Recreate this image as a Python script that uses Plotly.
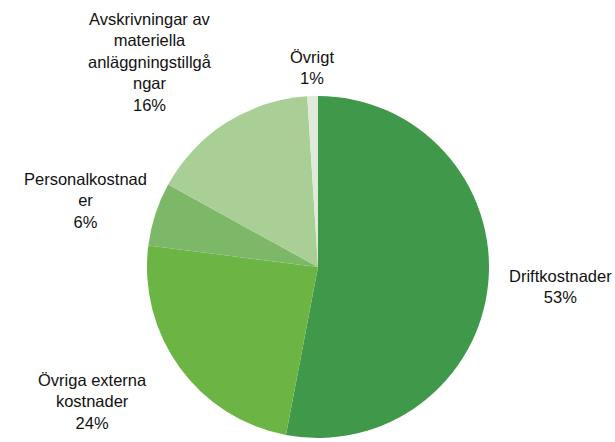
import plotly.graph_objects as go

categories = ["Driftkostnader", "Övriga externa kostnader", "Personalkostnader",
              "Avskrivningar av materiella anläggningstillgångar", "Övrigt"]
display_labels = ["Driftkostnader", "Övriga externa<br>kostnader", "Personalkostnad<br>er",
                  "Avskrivningar av<br>materiella<br>anläggningstillgå<br>ngar", "Övrigt"]
values = [53, 24, 6, 16, 1]
colors = ["#40994a", "#6cb544", "#7db868", "#a9cf96", "#dfeada"]

W, H = 615, 442
cx, cy, r = 318, 267, 171

fig = go.Figure(go.Pie(
    labels=categories, values=values, sort=False, direction="clockwise", rotation=0,
    marker=dict(colors=colors, line=dict(width=0)),
    textinfo="none", hoverinfo="label+percent", showlegend=False,
    domain=dict(x=[(cx - r) / W, (cx + r) / W], y=[(H - cy - r) / H, (H - cy + r) / H]),
))

# label block centres (pixels)
label_pos = [(560, 286), (92, 401), (85, 201), (150, 62), (312, 67)]
for lab, v, (px, py) in zip(display_labels, values, label_pos):
    fig.add_annotation(text=f"{lab}<br>{v}%", x=px / W, y=1 - py / H, xref="paper", yref="paper",
                       showarrow=False, align="center", xanchor="center", yanchor="middle",
                       font=dict(family="Liberation Sans, Arial", size=16.5, color="#111"))

fig.update_layout(width=W, height=H, margin=dict(l=0, r=0, t=0, b=0),
                  paper_bgcolor="white", plot_bgcolor="white")
fig.write_html("out.html")
